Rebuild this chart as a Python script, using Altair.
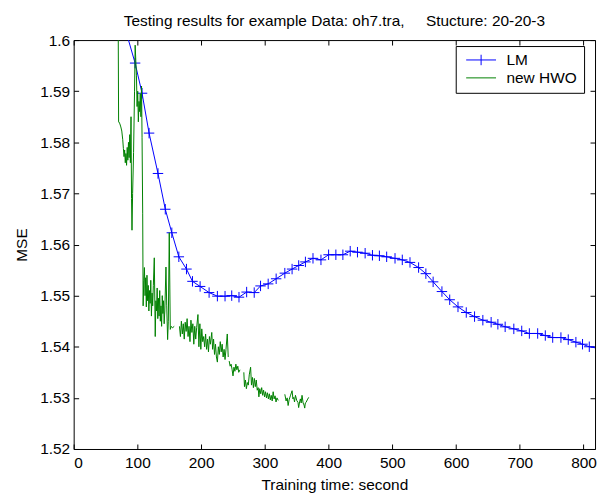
import altair as alt
import pandas as pd

# ---------------- data ----------------
series_names = ["LM", "new HWO"]
series_colors = ["#0000ff", "#008000"]

lm_x = [86, 96.4, 107.3, 118.3, 132.3, 143.75, 154, 165, 177, 186.4, 198.4, 212.5,
        225.5, 237.5, 248, 259.4, 271.4, 283.3, 293.2, 305.2, 317.7, 331.3, 342.7,
        353.1, 363.6, 375.5, 388, 400, 411.4, 422.4, 433.9, 445.3, 457.3, 468.8,
        479.7, 491.1, 504.2, 515.6, 527.7, 541.2, 552.6, 564, 577.8, 590, 603, 616,
        629, 642, 655, 665.6, 677, 690.6, 703, 715, 728, 740, 751.6, 764.5, 776, 788,
        798.4, 809, 818]
lm_y = [1.6000, 1.5955, 1.5896, 1.5818, 1.5739, 1.5669, 1.5623, 1.5576, 1.5552, 1.5528,
        1.5518, 1.5506, 1.5499, 1.5499, 1.5500, 1.5497, 1.5507, 1.5506, 1.5519, 1.5523,
        1.5533, 1.5544, 1.5552, 1.5559, 1.5566, 1.5573, 1.5570, 1.5580, 1.5580, 1.5580,
        1.5587, 1.5585, 1.5583, 1.5579, 1.5578, 1.5576, 1.5573, 1.5570, 1.5565, 1.5555,
        1.5543, 1.5527, 1.5508, 1.5492, 1.5478, 1.5467, 1.5459, 1.5452, 1.5448, 1.5444,
        1.5439, 1.5435, 1.5431, 1.5426, 1.5426, 1.5422, 1.5418, 1.5418, 1.5414, 1.5409,
        1.5405, 1.5400, 1.5398]

hwo_x = [70, 70.5, 71, 72.5, 74, 75.5, 77, 78, 79, 80, 81, 82, 83, 84, 85, 86, 87, 88,
         89, 90, 90.8, 91.5, 92.5, 94, 95.5, 96.5, 97.5, 98.5, 99.5, 100.5, 101.5, 102.5,
         103.5, 104.5, 105.5, 106.5, 107.3, 108.3, 109, 110, 111, 112, 113, 114, 115, 116,
         117, 118, 119, 120, 121, 122, 123, 124, 125, 126.5, 128, 129, 130, 131, 132, 133,
         134, 135, 136, 137, 138, 139, 140, 141, 142, 143, 144.8, 146, 147.4, 148.5, 150,
         151.6, 153, 155, 157.8,
         166, 167.5, 169, 170.5, 172, 173.5, 175, 176.5, 178, 179.5, 181, 182.5, 184,
         185.5, 187, 188.5, 190, 191.5, 193, 195, 196.5, 198, 199.5, 201, 202.5, 204,
         205.5, 207, 208.5, 210, 211.5, 213, 214.5, 216.7, 218, 219.5, 221, 222.5, 224,
         225.5, 227, 228.5, 230, 231.5, 233, 234.5, 236, 237.5, 239, 241, 242.5,
         244, 245.5, 247, 248.5, 250, 251.5, 253, 254.5, 256, 257.5, 259, 261,
         267, 268, 269.5, 271, 272.5, 274, 275.5, 277.6, 279, 280.5, 282, 283.5, 285,
         286.5, 288, 289.5, 290.6, 292, 293.5, 295, 296.5, 298, 299.5, 301, 302.5, 304,
         305.5, 307, 308.5, 310, 311.5, 313, 314.5, 316, 317.5, 319, 321,
         331.3, 333.3, 335, 336.5, 338, 340, 342.7, 344, 345.3, 346.5, 348, 350, 352,
         353, 354.5, 355.7, 357, 358.3, 360, 361.5, 362.5, 363.5, 364.6, 366.5, 368.75]
hwo_y = [1.6000, 1.5840, 1.5840, 1.5836, 1.5830, 1.5822, 1.5805, 1.5788, 1.5772, 1.5785,
         1.5760, 1.5778, 1.5755, 1.5790, 1.5765, 1.5800, 1.5770, 1.5815, 1.5760, 1.5850,
         1.5690, 1.5628, 1.5700, 1.5780, 1.5900, 1.5990, 1.5960, 1.5930, 1.5870, 1.5900,
         1.5840, 1.5880, 1.5860, 1.5895, 1.5850, 1.5910, 1.5810, 1.5660, 1.5480, 1.5530,
         1.5555, 1.5500, 1.5535, 1.5478, 1.5540, 1.5490, 1.5520, 1.5470, 1.5510, 1.5485,
         1.5530, 1.5460, 1.5505, 1.5480, 1.5520, 1.5574, 1.5420, 1.5490, 1.5470, 1.5515,
         1.5455, 1.5495, 1.5460, 1.5510, 1.5450, 1.5480, 1.5440, 1.5500, 1.5465, 1.5490,
         1.5445, 1.5470, 1.5556, 1.5480, 1.5414, 1.5450, 1.5623, 1.5434, 1.5440, 1.5437,
         1.5440,
         1.5440, 1.5420, 1.5450, 1.5425, 1.5445, 1.5415, 1.5448, 1.5430, 1.5455, 1.5420,
         1.5440, 1.5410, 1.5452, 1.5428, 1.5445, 1.5405, 1.5440, 1.5415, 1.5438, 1.5463,
         1.5400, 1.5445, 1.5395, 1.5435, 1.5410, 1.5420, 1.5400, 1.5425, 1.5395, 1.5415,
         1.5390, 1.5420, 1.5405, 1.5428, 1.5395, 1.5415, 1.5385, 1.5405, 1.5380, 1.5370,
         1.5400, 1.5385, 1.5410, 1.5390, 1.5405, 1.5380, 1.5395, 1.5375, 1.5395, 1.5425,
         1.5380,
         1.5372, 1.5362, 1.5366, 1.5356, 1.5343, 1.5360, 1.5352, 1.5366, 1.5355, 1.5362,
         1.5350, 1.5355,
         1.5350, 1.5322, 1.5335, 1.5318, 1.5330, 1.5325, 1.5345, 1.5360, 1.5325, 1.5340,
         1.5320, 1.5338, 1.5322, 1.5335, 1.5315, 1.5320, 1.5302, 1.5318, 1.5308, 1.5320,
         1.5305, 1.5315, 1.5302, 1.5312, 1.5300, 1.5310, 1.5298, 1.5308, 1.5296, 1.5305,
         1.5294, 1.5312, 1.5298, 1.5304, 1.5292, 1.5300, 1.5295,
         1.5307, 1.5294, 1.5300, 1.5285, 1.5296, 1.5304, 1.5314, 1.5298, 1.5301, 1.5292,
         1.5305, 1.5295, 1.5291, 1.5281, 1.5292, 1.5298, 1.5290, 1.5305, 1.5290, 1.5286,
         1.5280, 1.5290, 1.5291, 1.5296, 1.5301]
# x positions where the HWO trace is interrupted
hwo_breaks = [162, 243.3, 264, 326]

x_ticks = [0, 100, 200, 300, 400, 500, 600, 700, 800]
y_ticks = [1.52, 1.53, 1.54, 1.55, 1.56, 1.57, 1.58, 1.59, 1.60]
x_domain = [0, 818]
y_domain = [1.52, 1.60]

title_text = "Testing results for example Data: oh7.tra,\u00a0\u00a0\u00a0\u00a0\u00a0Stucture: 20-20-3"
x_title = "Training time: second"
y_title = "MSE"

# ---------------- tables ----------------
lm_df = pd.DataFrame({"x": lm_x, "y": lm_y, "series": series_names[0]})
seg = [sum(1 for b in hwo_breaks if xv > b) for xv in hwo_x]
hwo_df = pd.DataFrame({"x": hwo_x, "y": hwo_y, "seg": seg, "series": series_names[1]})
legend_df = pd.DataFrame({"series": series_names, "x": [0, 0], "y": [1.55, 1.55]})

FONT = "Liberation Sans"
FS = 15.5
W, H = 524, 411

xs = alt.Scale(domain=x_domain, nice=False, zero=False)
ys = alt.Scale(domain=y_domain, nice=False, zero=False)

plus_path = "M-1,0H1M0,-1V1"
legend_paths = ["M-1,0H1M0,-0.35V0.35", "M-1,0H1"]

lm_line = alt.Chart(lm_df).mark_line(color=series_colors[0], strokeWidth=1, clip=True).encode(
    x=alt.X("x:Q", scale=xs, title=x_title,
            axis=alt.Axis(orient="bottom", values=x_ticks, format="d", offset=-5, tickSize=5,
                          domain=False, grid=False, labelPadding=7, titleY=46,
                          titleBaseline="alphabetic")),
    y=alt.Y("y:Q", scale=ys, title=y_title,
            axis=alt.Axis(orient="left", values=y_ticks, format="~g", offset=-5, tickSize=5,
                          domain=False, grid=False, labelPadding=4, titleX=-52,
                          titleBaseline="alphabetic")),
)

lm_pts = alt.Chart(lm_df).transform_filter("datum.x > 90 && datum.x < 815").mark_point(
    shape=plus_path, size=110, filled=False, strokeWidth=1, opacity=1,
    color=series_colors[0], clip=True).encode(
    x=alt.X("x:Q", scale=xs, axis=None),
    y=alt.Y("y:Q", scale=ys, axis=None),
)

hwo_line = alt.Chart(hwo_df).mark_line(color=series_colors[1], strokeWidth=1, clip=True).encode(
    x=alt.X("x:Q", scale=xs, title=None,
            axis=alt.Axis(orient="top", values=x_ticks, labels=False, offset=-5, tickSize=5,
                          domain=False, grid=False)),
    y=alt.Y("y:Q", scale=ys, title=None,
            axis=alt.Axis(orient="right", values=y_ticks, labels=False, offset=-5, tickSize=5,
                          domain=False, grid=False)),
    detail="seg:N",
    order="x:Q",
)

leg = alt.Legend(title=None, orient="none", legendX=384, legendY=6)
legend_layer = alt.Chart(legend_df).transform_filter("false").mark_point(
    filled=False, strokeWidth=1, opacity=1).encode(
    x=alt.X("x:Q", scale=xs, axis=None),
    y=alt.Y("y:Q", scale=ys, axis=None),
    color=alt.Color("series:N", scale=alt.Scale(domain=series_names, range=series_colors),
                    legend=leg),
    shape=alt.Shape("series:N", scale=alt.Scale(domain=series_names, range=legend_paths),
                    legend=leg),
)

chart = alt.layer(lm_line, lm_pts, hwo_line, legend_layer).resolve_axis(
    x="independent", y="independent"
).properties(
    width=W, height=H,
    title=alt.TitleParams(title_text, font=FONT, fontSize=FS, fontWeight="normal",
                          color="black", anchor="middle", baseline="alphabetic", offset=7,
                          dy=15),
    padding={"left": 66, "top": 31, "right": 4, "bottom": 43},
    autosize=alt.AutoSizeParams(type="none"),
    background="white",
).configure_view(
    stroke="black", strokeWidth=1
).configure_axis(
    labelFont=FONT, labelFontSize=FS, labelColor="black", titleFont=FONT,
    titleFontSize=FS, titleFontWeight="normal", titleColor="black",
    tickColor="black", tickWidth=1,
).configure_legend(
    labelFont=FONT, labelFontSize=FS, labelColor="black",
    strokeColor="black", fillColor="white", padding=6.5, cornerRadius=0,
    symbolSize=900, symbolStrokeWidth=1, symbolFillColor="transparent",
    symbolOpacity=1, labelOffset=10, symbolOffset=3.5, rowPadding=2, clipHeight=15,
)

chart.save("out.html", embed_options={"renderer": "svg", "actions": False})
